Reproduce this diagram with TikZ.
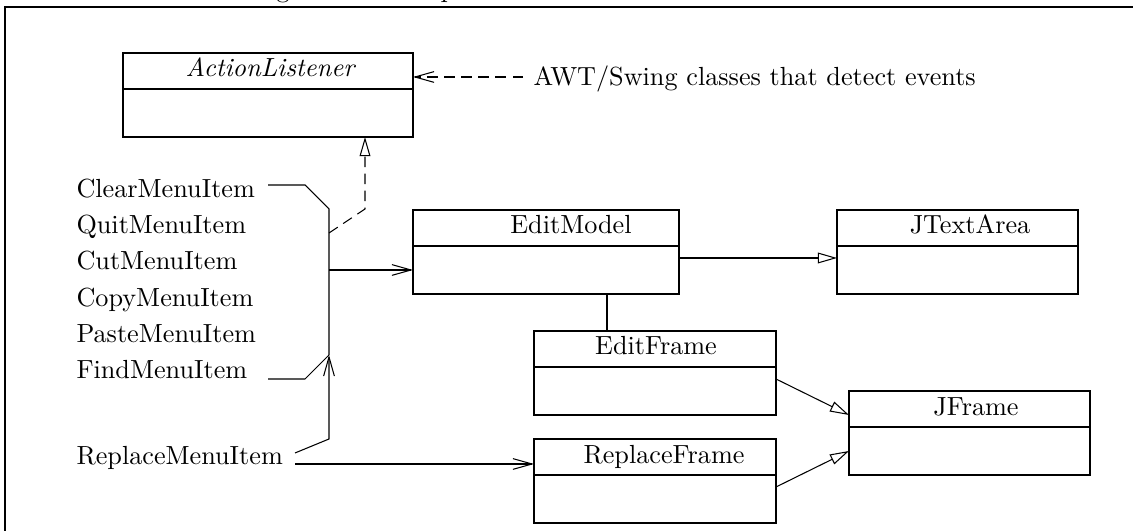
\documentclass[tikz,border=0pt]{standalone}
\usetikzlibrary{arrows.meta}
\newcommand\pxu{0.3817pt}
\begin{document}
\begin{tikzpicture}[x=0.3817pt,y=-0.3817pt, line width=0.4pt,
  box/.style={draw, rectangle, inner sep=0pt, outer sep=0pt, anchor=north west},
  lbl/.style={inner sep=0pt, anchor=base west},
  ttl/.style={inner sep=0pt, anchor=base},
  stick/.style={-{Straight Barb[length=7.3pt,width=4.1pt]}},
  inh/.style={-{Triangle[open,length=7.3pt,width=4.1pt]}},
  dsh/.style={dash pattern=on 4pt off 2.5pt}]
\useasboundingbox (0,0) rectangle (1133,531);
\clip (0,0) rectangle (1133,531);
% outer frame (clipped) and clipped caption fragments
\draw[line width=0.8pt] (5,7) rectangle (1300,700);
\node[ttl] (fg) at (283,-2) {g};
\node[lbl] (fp) at (440,-2) {p};
% class boxes
\node[box, minimum width=290*\pxu, minimum height=84*\pxu] (al) at (123,53) {};
\node[box, minimum width=266*\pxu, minimum height=84*\pxu] (em) at (413,210) {};
\node[box, minimum width=241*\pxu, minimum height=84*\pxu] (jt) at (837,210) {};
\node[box, minimum width=242*\pxu, minimum height=84*\pxu] (ef) at (534,331) {};
\node[box, minimum width=242*\pxu, minimum height=84*\pxu] (rf) at (534,439) {};
\node[box, minimum width=241*\pxu, minimum height=84*\pxu] (jf) at (849,391) {};
\draw (al.west |- 0,89) -- (al.east |- 0,89);
\draw (em.west |- 0,246) -- (em.east |- 0,246);
\draw (jt.west |- 0,246) -- (jt.east |- 0,246);
\draw (ef.west |- 0,367) -- (ef.east |- 0,367);
\draw (rf.west |- 0,475) -- (rf.east |- 0,475);
\draw (jf.west |- 0,427) -- (jf.east |- 0,427);
\node[ttl] (alt) at (271,77) {\textit{ActionListener}};
\node[ttl] (emt) at (571,234) {EditModel};
\node[ttl] (jtt) at (970,234) {JTextArea};
\node[ttl] (eft) at (656,355) {EditFrame};
\node[ttl] (rft) at (664,464) {ReplaceFrame};
\node[ttl] (jft) at (976,416) {JFrame};
% note
\node[lbl, inner xsep=10*\pxu] (awt) at (523,86) {AWT/Swing classes that detect events};
\draw[dsh, stick] (awt.west |- 0,77) -- (al.east |- 0,77);
% menu items
\node[lbl] (m1) at (76,198) {ClearMenuItem};
\node[lbl] (m2) at (76,234) {QuitMenuItem};
\node[lbl] (m3) at (76,270) {CutMenuItem};
\node[lbl] (m4) at (76,307) {CopyMenuItem};
\node[lbl] (m5) at (76,343) {PasteMenuItem};
\node[lbl] (m6) at (76,379) {FindMenuItem};
\node[lbl] (m7) at (76,465) {ReplaceMenuItem};
\coordinate (c1) at (268,185);
\coordinate (c6) at (268,379);
\coordinate (r1) at (295,453);
\coordinate (r2) at (295,464);
\coordinate (b1) at (329,209);
\coordinate (bd) at (329,233);
\coordinate (bj) at (329,270);
\coordinate (b2) at (329,355);
\coordinate (b3) at (329,439);
\draw (c1) -- (305,185) -- (b1) -- (b2);
\draw (c6) -- (305,379) -- (b2);
\draw[stick] (r1) -- (b3) -- (b2);
\draw[stick] (r2) -- (rf.west |- r2);
\draw[stick] (bj) -- (em.west |- bj);
\draw[dsh, inh] (bd) -- (365,209) -- (al.south -| 365,0);
% class relations
\draw[inh] (em.east |- 0,258) -- (jt.west |- 0,258);
\draw (em.south -| 607,0) -- (ef.north -| 607,0);
\draw[inh] (ef.east |- 0,379) -- (jf.west |- 0,415);
\draw[inh] (rf.east |- 0,487) -- (jf.west |- 0,451);
\end{tikzpicture}
\end{document}
